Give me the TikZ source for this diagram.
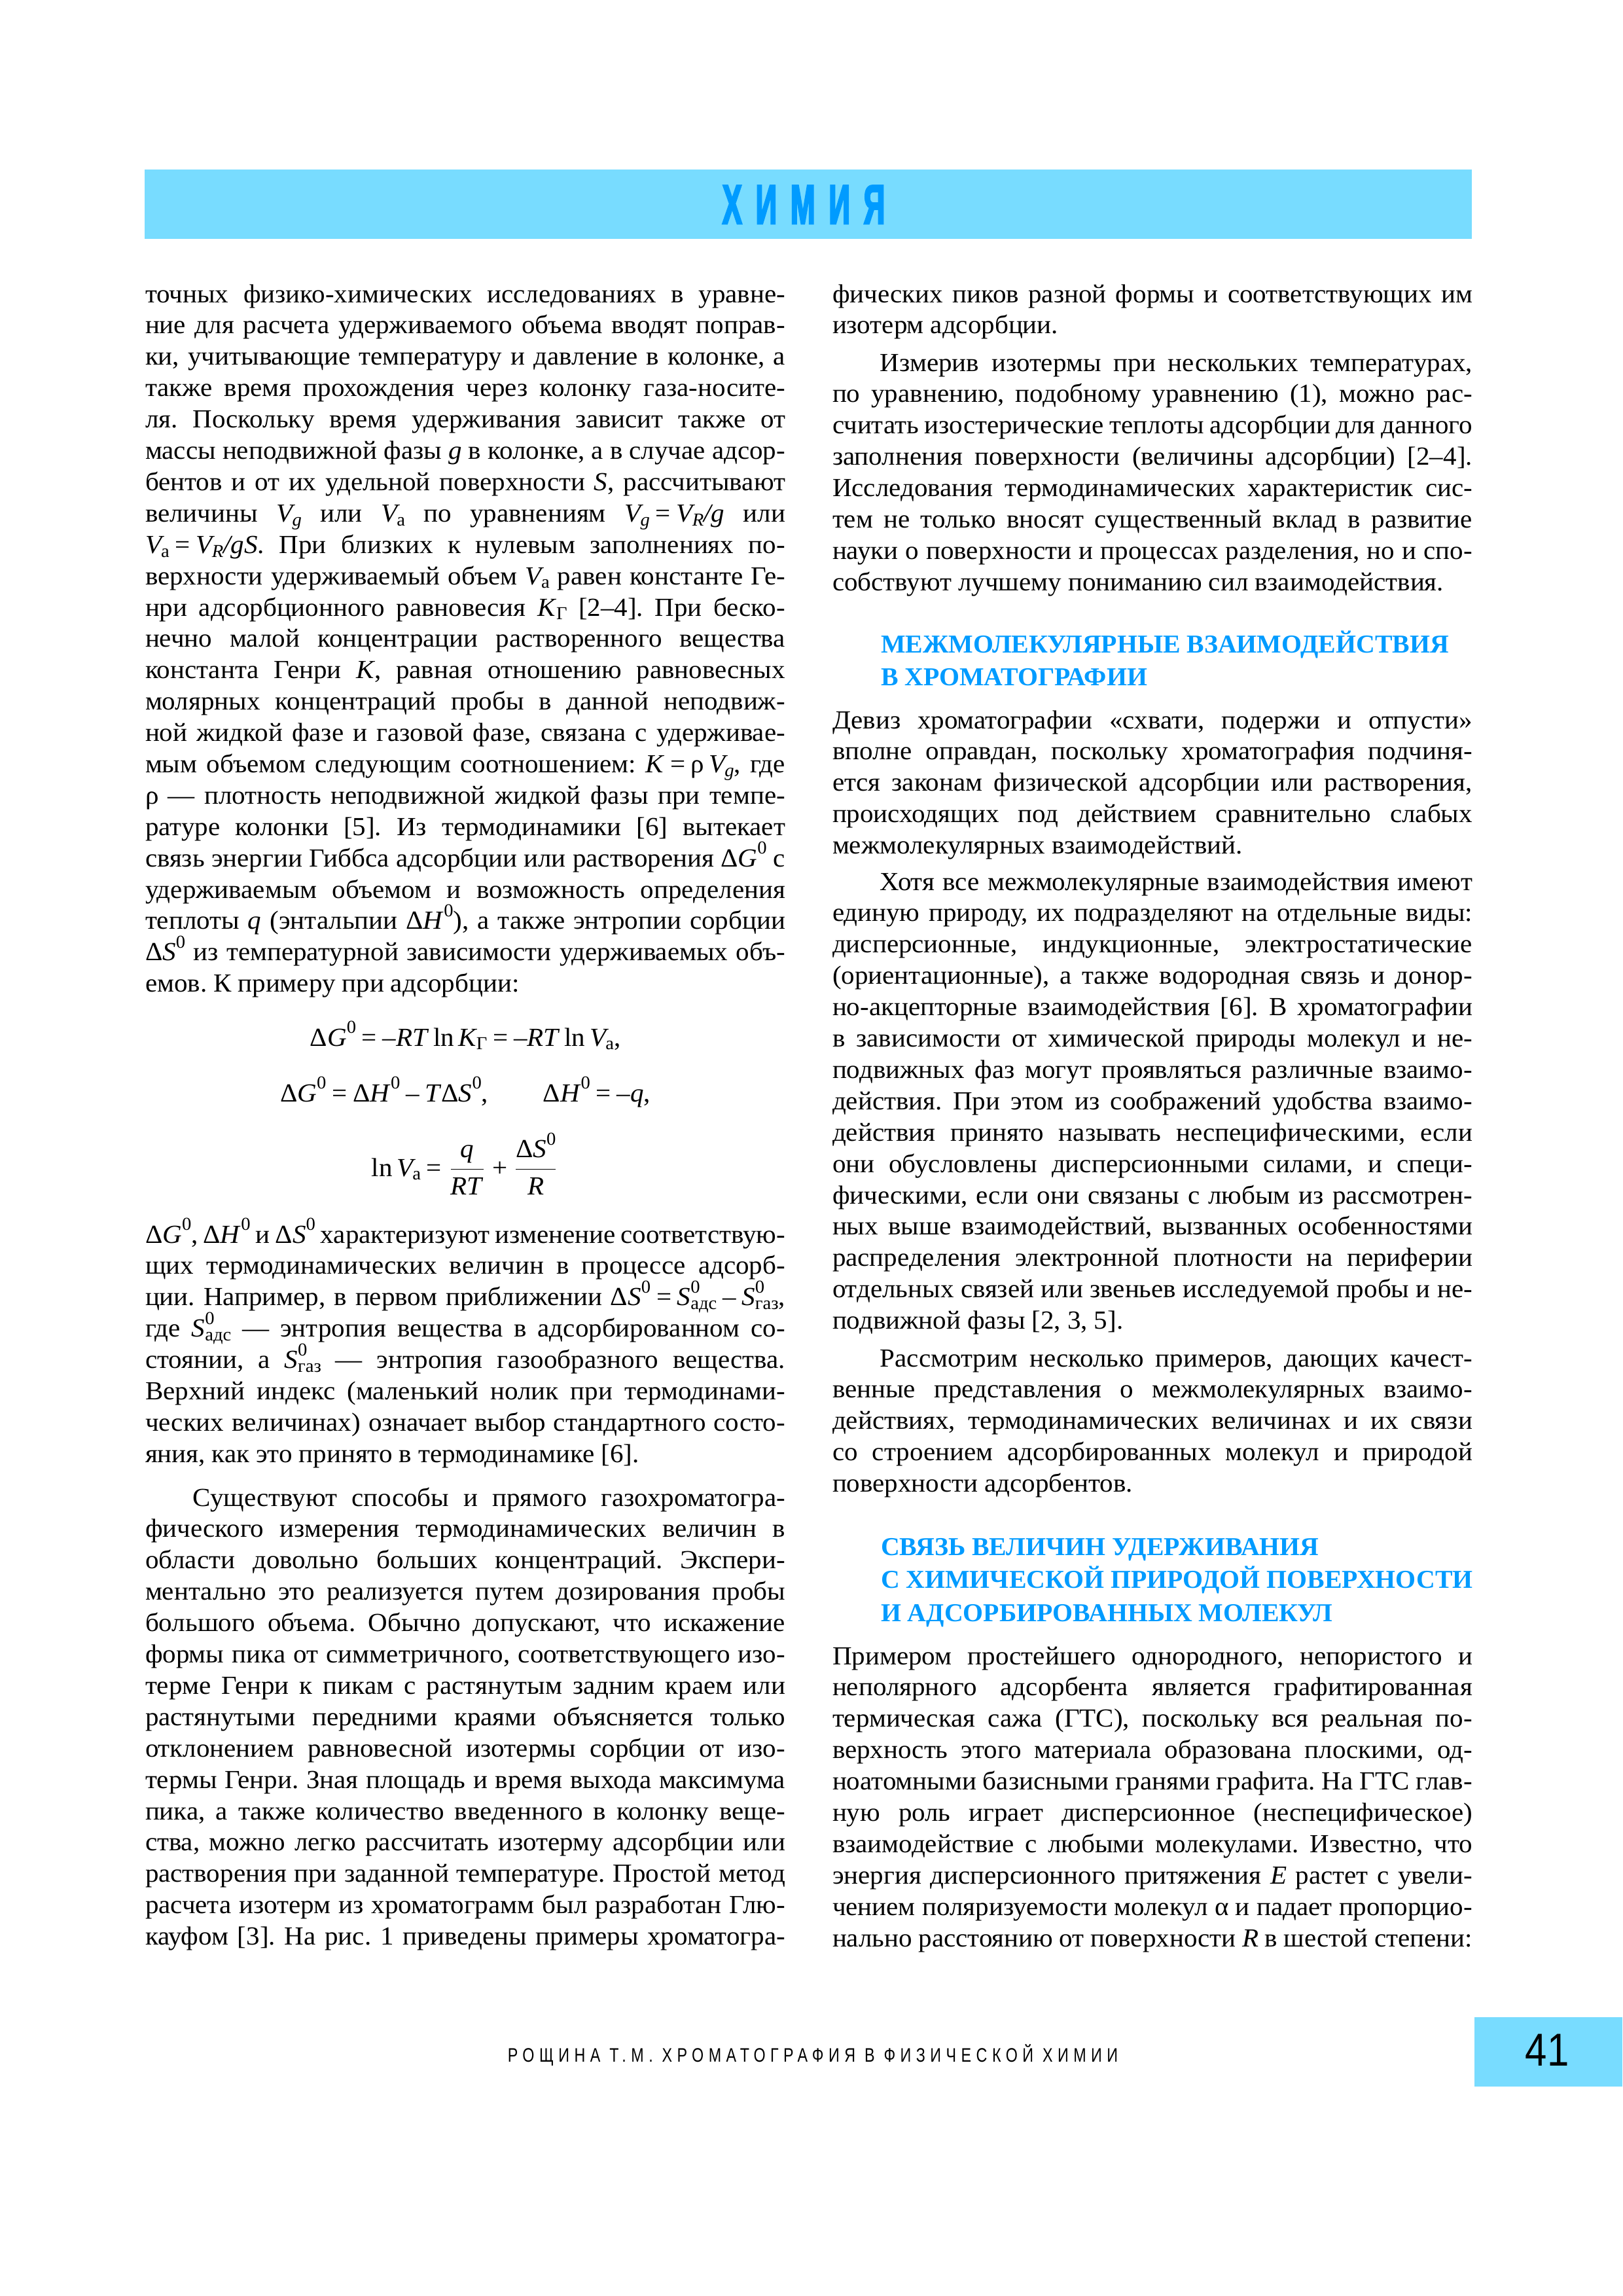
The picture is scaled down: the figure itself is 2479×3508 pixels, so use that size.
\documentclass[tikz,border=0pt]{standalone}
\usepackage{fontspec}
\setmainfont{Liberation Serif}[FakeStretch=1.03]
\newfontfamily\headfont{Liberation Serif}[FakeStretch=1.01]
\newfontfamily\hdrfont{Liberation Sans}[FakeStretch=0.53, BoldFeatures={FakeBold=2.5}]
\newfontfamily\footfont{Liberation Sans}[FakeStretch=0.78,LetterSpace=25]
\newfontfamily\numfont{Liberation Sans}[FakeStretch=0.85]
\definecolor{barblue}{RGB}{120,220,255}
\definecolor{headblue}{RGB}{0,155,255}
\frenchspacing
\newlength\colw \setlength\colw{82.848mm}
\newlength\pind \setlength\pind{6.18mm}
\newcommand\bodyfont{\fontsize{9.6pt}{11.545pt}\selectfont}
\newcommand\bodyset{\bodyfont\baselineskip=11.545pt\lineskiplimit=-30pt\lineskip=0pt\spaceskip=.25em plus .4em minus .1em\relax}
\newcommand\headset{\headfont\fontsize{9.5pt}{12.17pt}\selectfont\bfseries\baselineskip=12.17pt\lineskiplimit=-30pt\lineskip=0pt\relax}
\newcommand\jl[1]{\hbox to\colw{#1}}
\newcommand\el[1]{\hbox to\colw{#1\hfil}}
\newcommand\ijl[1]{\hbox to\colw{\hskip\pind #1}}
\newcommand\iel[1]{\hbox to\colw{\hskip\pind #1\hfil}}
\newcommand\sbs[1]{\raisebox{-0.32ex}{\fontsize{6.7pt}{7pt}\selectfont #1}}
\newcommand\sps[1]{\raisebox{1.05ex}{\fontsize{6.7pt}{7pt}\selectfont #1}}
\newcommand\vsub[1]{\textit{V}\kern-0.12em\sbs{#1}}
\newcommand\dz[1]{Δ\textit{#1}\sps{0}}
\newcommand\szs[1]{\textit{S}\rlap{\sps{0}}\sbs{#1}}
\newcommand\qe{\hskip.22em=\hskip.22em\relax}
\newcommand\blk[4]{\node[blk] (#1) at (#2,#3) {\vtop{\bodyset #4}};}
\tikzset{
  blk/.style={anchor=base west, inner sep=0pt, outer sep=0pt},
  hd/.style={anchor=base west, inner sep=0pt, outer sep=0pt, text=headblue},
  eqn/.style={anchor=base, inner sep=0pt, outer sep=0pt, font=\bodyfont}
}
\begin{document}
\begin{tikzpicture}[x=0.084712mm, y=-0.084712mm]
\fill[white] (0,0) rectangle (2479,3508);
\path[use as bounding box] (0,0) rectangle (2479,3508);
% header bar
\fill[barblue] (221,259) rectangle (2249,365);
\node[anchor=base, inner sep=0pt, text=headblue, font=\hdrfont\bfseries\fontsize{20.6pt}{22pt}\selectfont] (hdr) at (1228,342) {Х\kern5pt И\kern5pt М\kern5pt И\kern5pt Я};
% left column
\blk{L1}{222}{462}{%
\jl{точных физико-химических исследованиях в уравне-}
\jl{ние для расчета удерживаемого объема вводят поправ-}
\jl{ки, учитывающие температуру и давление в колонке, а}
\jl{также время прохождения через колонку газа-носите-}
\jl{ля. Поскольку время удерживания зависит также от}
\jl{массы неподвижной фазы \textit{g} в колонке, а в случае адсор-}
\jl{бентов и от их удельной поверхности \textit{S}, рассчитывают}
\jl{величины \vsub{\textit{g}} или \vsub{а} по уравнениям \vsub{\textit{g}}\qe\vsub{\textit{R}}\textit{/g} или}
\jl{\vsub{а}\qe\vsub{\textit{R}}\textit{/gS}. При близких к нулевым заполнениях по-}
\jl{верхности удерживаемый объем \vsub{а} равен константе Ге-}
\jl{нри адсорбционного равновесия \textit{K}\sbs{Г} [2–4]. При беско-}
\jl{нечно малой концентрации растворенного вещества}
\jl{константа Генри \textit{K}, равная отношению равновесных}
\jl{молярных концентраций пробы в данной неподвиж-}
\jl{ной жидкой фазе и газовой фазе, связана с удерживае-}
\jl{мым объемом следующим соотношением: \textit{K}\qe ρ\,\vsub{\textit{g}}, где}
\jl{ρ — плотность неподвижной жидкой фазы при темпе-}
\jl{ратуре колонки [5]. Из термодинамики [6] вытекает}
\jl{связь энергии Гиббса адсорбции или растворения \dz{G} с}
\jl{удерживаемым объемом и возможность определения}
\jl{теплоты \textit{q} (энтальпии \dz{H}), а также энтропии сорбции}
\jl{\dz{S} из температурной зависимости удерживаемых объ-}
\el{емов. К примеру при адсорбции:}}
% equations
\node[eqn] (e1) at (711,1598) {Δ\textit{G}\sps{0}\qe –\textit{RT}\,ln\,\textit{K}\kern-0.05em\sbs{Г}\qe –\textit{RT}\,ln\,\vsub{а},};
\node[eqn] (e2) at (711,1683) {Δ\textit{G}\sps{0}\qe Δ\textit{H}\sps{0}\hskip.22em–\hskip.22em\textit{T}Δ\textit{S}\sps{0},\hskip2.1em Δ\textit{H}\sps{0}\qe –\textit{q},};
\node[eqn] (e3) at (711,1797) {$\displaystyle\mbox{ln\,\vsub{а}\qe}\frac{\mbox{\textit{q}}}{\mbox{\textit{RT}}}\mbox{\hskip.2em+\hskip.2em}\frac{\mbox{Δ\textit{S}\sps{0}}}{\mbox{\textit{R}}}$};
\blk{L2}{222}{1899}{%
\jl{\dz{G}, \dz{H} и \dz{S} характеризуют изменение соответствую-}
\jl{щих термодинамических величин в процессе адсорб-}
\jl{ции. Например, в первом приближении Δ\textit{S}\sps{0}\qe\szs{адс}\hskip.22em–\hskip.22em\szs{газ},}
\jl{где \szs{адс} — энтропия вещества в адсорбированном со-}
\jl{стоянии, а \szs{газ} — энтропия газообразного вещества.}
\jl{Верхний индекс (маленький нолик при термодинами-}
\jl{ческих величинах) означает выбор стандартного состо-}
\el{яния, как это принято в термодинамике [6].}}
\blk{L3}{222}{2301}{%
\ijl{Существуют способы и прямого газохроматогра-}
\jl{фического измерения термодинамических величин в}
\jl{области довольно больших концентраций. Экспери-}
\jl{ментально это реализуется путем дозирования пробы}
\jl{большого объема. Обычно допускают, что искажение}
\jl{формы пика от симметричного, соответствующего изо-}
\jl{терме Генри к пикам с растянутым задним краем или}
\jl{растянутыми передними краями объясняется только}
\jl{отклонением равновесной изотермы сорбции от изо-}
\jl{термы Генри. Зная площадь и время выхода максимума}
\jl{пика, а также количество введенного в колонку веще-}
\jl{ства, можно легко рассчитать изотерму адсорбции или}
\jl{растворения при заданной температуре. Простой метод}
\jl{расчета изотерм из хроматограмм был разработан Глю-}
\jl{кауфом [3]. На рис. 1 приведены примеры хроматогра-}}
% right column
\blk{R1}{1272}{462}{%
\jl{фических пиков разной формы и соответствующих им}
\el{изотерм адсорбции.}}
\blk{R2}{1272}{567}{%
\ijl{Измерив изотермы при нескольких температурах,}
\jl{по уравнению, подобному уравнению (1), можно рас-}
\jl{считать изостерические теплоты адсорбции для данного}
\jl{заполнения поверхности (величины адсорбции) [2–4].}
\jl{Исследования термодинамических характеристик сис-}
\jl{тем не только вносят существенный вклад в развитие}
\jl{науки о поверхности и процессах разделения, но и спо-}
\el{собствуют лучшему пониманию сил взаимодействия.}}
\node[hd] (H1) at (1346,997) {\vtop{\headset
\hbox{МЕЖМОЛЕКУЛЯРНЫЕ ВЗАИМОДЕЙСТВИЯ}
\hbox{В ХРОМАТОГРАФИИ}}};
\blk{R3}{1272}{1113}{%
\jl{Девиз хроматографии «схвати, подержи и отпусти»}
\jl{вполне оправдан, поскольку хроматография подчиня-}
\jl{ется законам физической адсорбции или растворения,}
\jl{происходящих под действием сравнительно слабых}
\el{межмолекулярных взаимодействий.}}
\blk{R4}{1272}{1360}{%
\ijl{Хотя все межмолекулярные взаимодействия имеют}
\jl{единую природу, их подразделяют на отдельные виды:}
\jl{дисперсионные, индукционные, электростатические}
\jl{(ориентационные), а также водородная связь и донор-}
\jl{но-акцепторные взаимодействия [6]. В хроматографии}
\jl{в зависимости от химической природы молекул и не-}
\jl{подвижных фаз могут проявляться различные взаимо-}
\jl{действия. При этом из соображений удобства взаимо-}
\jl{действия принято называть неспецифическими, если}
\jl{они обусловлены дисперсионными силами, и специ-}
\jl{фическими, если они связаны с любым из рассмотрен-}
\jl{ных выше взаимодействий, вызванных особенностями}
\jl{распределения электронной плотности на периферии}
\jl{отдельных связей или звеньев исследуемой пробы и не-}
\el{подвижной фазы [2, 3, 5].}}
\blk{R5}{1272}{2088}{%
\ijl{Рассмотрим несколько примеров, дающих качест-}
\jl{венные представления о межмолекулярных взаимо-}
\jl{действиях, термодинамических величинах и их связи}
\jl{со строением адсорбированных молекул и природой}
\el{поверхности адсорбентов.}}
\node[hd] (H2) at (1346,2376) {\vtop{\headset
\hbox{СВЯЗЬ ВЕЛИЧИН УДЕРЖИВАНИЯ}
\hbox{С ХИМИЧЕСКОЙ ПРИРОДОЙ ПОВЕРХНОСТИ}
\hbox{И АДСОРБИРОВАННЫХ МОЛЕКУЛ}}};
\blk{R6}{1272}{2543}{%
\jl{Примером простейшего однородного, непористого и}
\jl{неполярного адсорбента является графитированная}
\jl{термическая сажа (ГТС), поскольку вся реальная по-}
\jl{верхность этого материала образована плоскими, од-}
\jl{ноатомными базисными гранями графита. На ГТС глав-}
\jl{ную роль играет дисперсионное (неспецифическое)}
\jl{взаимодействие с любыми молекулами. Известно, что}
\jl{энергия дисперсионного притяжения \textit{E} растет с увели-}
\jl{чением поляризуемости молекул α и падает пропорцио-}
\jl{нально расстоянию от поверхности \textit{R} в шестой степени:}}
% footer
\node[anchor=base, inner sep=0pt, font=\footfont\fontsize{7.2pt}{8pt}\selectfont] (ftr) at (1242,3150) {РОЩИНА Т.М. ХРОМАТОГРАФИЯ В ФИЗИЧЕСКОЙ ХИМИИ};
\fill[barblue] (2253,3082) rectangle (2479,3188);
\node[anchor=base, inner sep=0pt, font=\numfont\fontsize{17pt}{18pt}\selectfont] (pg) at (2364,3156) {41};
\end{tikzpicture}
\end{document}
